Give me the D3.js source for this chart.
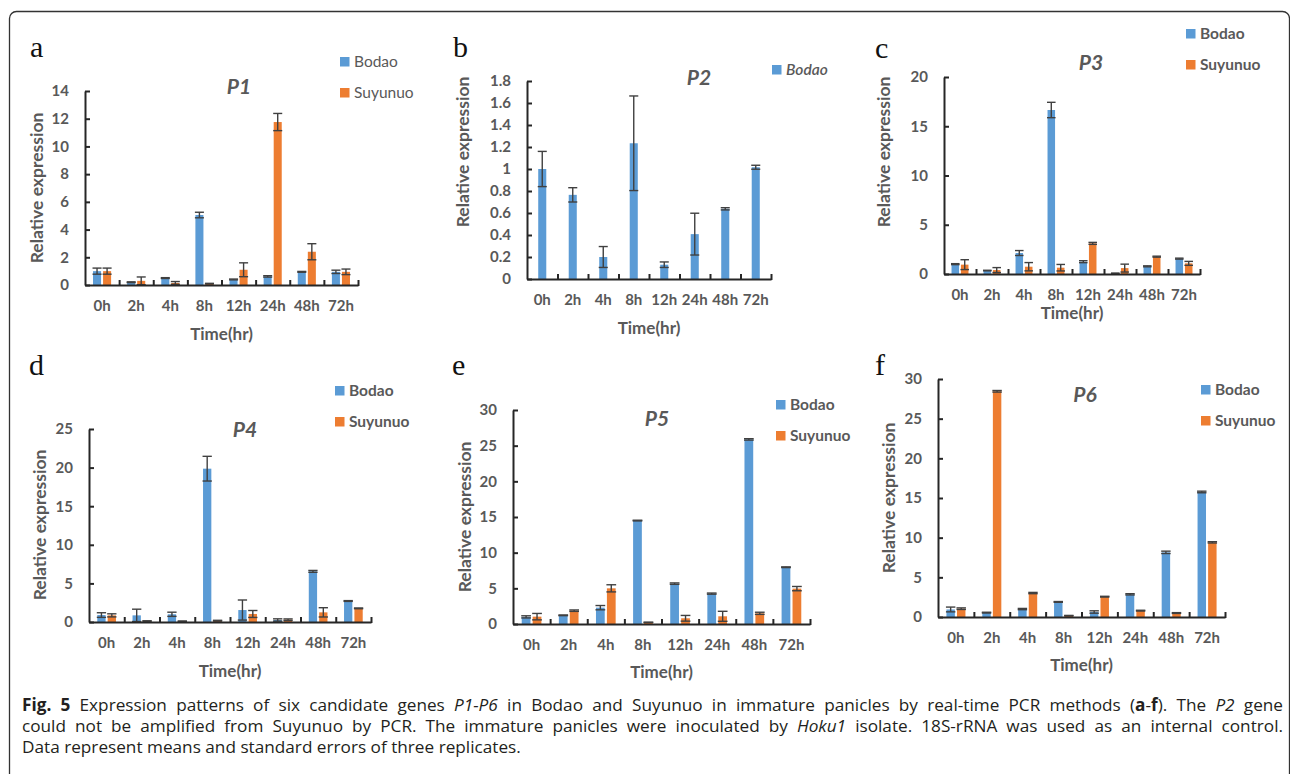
<!DOCTYPE html>
<html>
<head>
<meta charset="utf-8">
<script src="https://cdn.jsdelivr.net/npm/d3@7"></script>
<style>
  body { margin: 0; background: #fff; }
  svg { display: block; }
</style>
</head>
<body>
<svg id="fig" width="1290" height="774"></svg>
<script>
// ---- data ----
const times = ["0h", "2h", "4h", "8h", "12h", "24h", "48h", "72h"];

const p1Bodao = [1.0, 0.2, 0.5, 5.05, 0.4, 0.62, 0.95, 0.95];
const p1BodaoErr = [0.22, 0.03, 0.03, 0.2, 0.03, 0.05, 0.03, 0.12];
const p1Suyunuo = [1.0, 0.3, 0.15, 0.1, 1.1, 11.76, 2.4, 0.95];
const p1SuyunuoErr = [0.22, 0.28, 0.1, 0.02, 0.5, 0.62, 0.58, 0.2];
const p1Ticks = [0, 2, 4, 6, 8, 10, 12, 14];

const p2Bodao = [1.0, 0.765, 0.2, 1.234, 0.13, 0.408, 0.638, 1.016];
const p2BodaoErr = [0.16, 0.065, 0.095, 0.43, 0.025, 0.19, 0.01, 0.018];
const p2Ticks = [0, 0.2, 0.4, 0.6, 0.8, 1, 1.2, 1.4, 1.6, 1.8];

const p3Bodao = [1.0, 0.35, 2.13, 16.65, 1.25, 0.07, 0.78, 1.56];
const p3BodaoErr = [0.05, 0.03, 0.25, 0.78, 0.1, 0.02, 0.05, 0.05];
const p3Suyunuo = [0.95, 0.4, 0.74, 0.64, 3.11, 0.6, 1.76, 1.08];
const p3SuyunuoErr = [0.5, 0.25, 0.42, 0.33, 0.1, 0.4, 0.05, 0.2];
const p3Ticks = [0, 5, 10, 15, 20];

const p4Bodao = [0.9, 0.86, 1.0, 19.86, 1.55, 0.26, 6.56, 2.72];
const p4BodaoErr = [0.3, 0.8, 0.27, 1.6, 1.3, 0.15, 0.12, 0.05];
const p4Suyunuo = [0.86, 0.13, 0.1, 0.17, 1.04, 0.3, 1.25, 1.77];
const p4SuyunuoErr = [0.2, 0.03, 0.03, 0.05, 0.45, 0.1, 0.6, 0.05];
const p4Ticks = [0, 5, 10, 15, 20, 25];

const p5Bodao = [1.0, 1.22, 2.29, 14.5, 5.66, 4.26, 25.88, 7.96];
const p5BodaoErr = [0.15, 0.05, 0.3, 0.05, 0.1, 0.08, 0.1, 0.05];
const p5Suyunuo = [1.03, 1.87, 5.0, 0.23, 0.8, 1.08, 1.5, 4.96];
const p5SuyunuoErr = [0.45, 0.1, 0.5, 0.03, 0.4, 0.7, 0.15, 0.3];
const p5Ticks = [0, 5, 10, 15, 20, 25, 30];

const p6Bodao = [0.95, 0.55, 1.0, 1.9, 0.63, 2.86, 8.15, 15.76];
const p6BodaoErr = [0.3, 0.05, 0.08, 0.05, 0.15, 0.08, 0.15, 0.1];
const p6Suyunuo = [1.05, 28.45, 3.02, 0.17, 2.56, 0.8, 0.5, 9.41];
const p6SuyunuoErr = [0.1, 0.1, 0.08, 0.03, 0.05, 0.05, 0.05, 0.08];
const p6Ticks = [0, 5, 10, 15, 20, 25, 30];

const captionLines = [
  [["Fig. 5", "b"], [" Expression patterns of six candidate genes ", ""], ["P1-P6", "i"],
   [" in Bodao and Suyunuo in immature panicles by real-time PCR methods (", ""], ["a", "b"], ["-", ""], ["f", "b"],
   ["). The ", ""], ["P2", "i"], [" gene", ""]],
  [["could not be amplified from Suyunuo by PCR. The immature panicles were inoculated by ", ""], ["Hoku1", "i"],
   [" isolate. 18S-rRNA was used as an internal control.", ""]],
  [["Data represent means and standard errors of three replicates.", ""]]
];

// ---- styles ----
const blue = "#5b9bd5", orange = "#ed7d31";
const gray = "#595959";
const chartFont = "Lato, 'Open Sans', sans-serif";

const svg = d3.select("#fig");

// frame
svg.append("rect")
  .attr("x", 9.5).attr("y", 11.5).attr("width", 1280).attr("height", 800)
  .attr("rx", 7).attr("fill", "none").attr("stroke", "#333").attr("stroke-width", 1.3);

const panels = [
  { letter: "a", lx: 30, ly: 57, x0: 85, x1: 358, y0: 285, yTop: 91, ticks: p1Ticks,
    title: "P1", tx: 239, ty: 87, ylx: 37, yly: 188, xly: 334, legX: 340, legY: 57, legStyle: "normal",
    series: [{ name: "Bodao", values: p1Bodao, errors: p1BodaoErr, color: blue },
             { name: "Suyunuo", values: p1Suyunuo, errors: p1SuyunuoErr, color: orange }] },
  { letter: "b", lx: 453, ly: 57, x0: 527, x1: 771, y0: 279, yTop: 81, ticks: p2Ticks,
    title: "P2", tx: 699, ty: 78, ylx: 463, yly: 152, xly: 328, legX: 772, legY: 65, legStyle: "italic",
    series: [{ name: "Bodao", values: p2Bodao, errors: p2BodaoErr, color: blue }] },
  { letter: "c", lx: 875, ly: 58, x0: 944, x1: 1200, y0: 274, yTop: 77, ticks: p3Ticks,
    title: "P3", tx: 1091, ty: 63, ylx: 884, yly: 152, xly: 313, legX: 1186, legY: 29, legStyle: "bold",
    series: [{ name: "Bodao", values: p3Bodao, errors: p3BodaoErr, color: blue },
             { name: "Suyunuo", values: p3Suyunuo, errors: p3SuyunuoErr, color: orange }] },
  { letter: "d", lx: 29, ly: 375, x0: 89, x1: 371, y0: 622, yTop: 429, ticks: p4Ticks,
    title: "P4", tx: 245, ty: 430, ylx: 40, yly: 525, xly: 671, legX: 335, legY: 386, legStyle: "bold",
    series: [{ name: "Bodao", values: p4Bodao, errors: p4BodaoErr, color: blue },
             { name: "Suyunuo", values: p4Suyunuo, errors: p4SuyunuoErr, color: orange }] },
  { letter: "e", lx: 452, ly: 375, x0: 513, x1: 810, y0: 624, yTop: 410, ticks: p5Ticks,
    title: "P5", tx: 657, ty: 419, ylx: 465, yly: 517, xly: 672, legX: 776, legY: 400, legStyle: "bold",
    series: [{ name: "Bodao", values: p5Bodao, errors: p5BodaoErr, color: blue },
             { name: "Suyunuo", values: p5Suyunuo, errors: p5SuyunuoErr, color: orange }] },
  { letter: "f", lx: 875, ly: 375, x0: 938, x1: 1225, y0: 617, yTop: 379, ticks: p6Ticks,
    title: "P6", tx: 1085, ty: 395, ylx: 889, yly: 498, xly: 665, legX: 1201, legY: 385, legStyle: "bold",
    series: [{ name: "Bodao", values: p6Bodao, errors: p6BodaoErr, color: blue },
             { name: "Suyunuo", values: p6Suyunuo, errors: p6SuyunuoErr, color: orange }] }
];

function drawPanel(cfg) {
  const g = svg.append("g").attr("font-family", chartFont);
  const x = d3.scaleBand().domain(times).range([cfg.x0, cfg.x1]);
  const y = d3.scaleLinear().domain([0, d3.max(cfg.ticks)]).range([cfg.y0, cfg.yTop]);
  const bw = x.bandwidth();
  const names = cfg.series.map(s => s.name);
  const inner = d3.scaleBand().domain(names)
    .range(names.length > 1 ? [0.235 * bw, 0.765 * bw] : [0.335 * bw, 0.665 * bw])
    .paddingInner(0.2);
  const w = inner.bandwidth();

  // bars
  cfg.series.forEach(s => {
    const rows = times.map((t, i) => ({ t, v: s.values[i], e: s.errors[i] }));
    g.append("g").selectAll("rect").data(rows).join("rect")
      .attr("x", d => x(d.t) + inner(s.name))
      .attr("y", d => y(d.v))
      .attr("width", w)
      .attr("height", d => y(0) - y(d.v))
      .attr("fill", s.color);
  });

  // error bars
  cfg.series.forEach(s => {
    const rows = times.map((t, i) => ({ t, v: s.values[i], e: s.errors[i] }));
    const eg = g.append("g").attr("stroke", "#404040").attr("stroke-width", 1.4).attr("fill", "none");
    const cx = d => x(d.t) + inner(s.name) + w / 2;
    eg.selectAll(".stem").data(rows).join("line").attr("class", "stem")
      .attr("x1", cx).attr("x2", cx)
      .attr("y1", d => y(d.v + d.e)).attr("y2", d => y(Math.max(0, d.v - d.e)));
    eg.selectAll(".capT").data(rows).join("line").attr("class", "capT")
      .attr("x1", d => cx(d) - w / 2 - 0.5).attr("x2", d => cx(d) + w / 2 + 0.5)
      .attr("y1", d => y(d.v + d.e)).attr("y2", d => y(d.v + d.e));
    eg.selectAll(".capB").data(rows).join("line").attr("class", "capB")
      .attr("x1", d => cx(d) - w / 2 - 0.5).attr("x2", d => cx(d) + w / 2 + 0.5)
      .attr("y1", d => y(Math.max(0, d.v - d.e))).attr("y2", d => y(Math.max(0, d.v - d.e)));
  });

  // y axis
  const ya = g.append("g").attr("transform", `translate(${cfg.x0},0)`)
    .call(d3.axisLeft(y).tickValues(cfg.ticks).tickFormat(d => String(d))
      .tickSize(-5).tickSizeOuter(0).tickPadding(16));
  ya.select(".domain").attr("stroke", "#262626").attr("stroke-width", 2);
  ya.selectAll(".tick line").attr("stroke", "#262626").attr("stroke-width", 2);
  ya.selectAll(".tick text").attr("fill", gray).attr("font-size", 15).attr("font-weight", "bold")
    .attr("font-family", chartFont);

  // x axis: labels centred in bands
  const xa = g.append("g").attr("transform", `translate(0,${cfg.y0})`)
    .call(d3.axisBottom(x).tickSize(0).tickSizeOuter(0).tickPadding(15));
  xa.select(".domain").attr("stroke", "#262626").attr("stroke-width", 2);
  xa.selectAll(".tick text").attr("fill", gray).attr("font-size", 15).attr("font-weight", "bold")
    .attr("font-family", chartFont);

  // x axis: tick marks on category boundaries
  const bx = d3.scaleLinear().domain([0, times.length]).range([cfg.x0, cfg.x1]);
  const xt = g.append("g").attr("transform", `translate(0,${cfg.y0 + 1})`)
    .call(d3.axisBottom(bx).tickValues(d3.range(1, times.length + 1)).tickFormat("").tickSize(-6).tickSizeOuter(0));
  xt.select(".domain").remove();
  xt.selectAll(".tick line").attr("stroke", "#262626").attr("stroke-width", 2);

  // titles
  g.append("text").attr("x", cfg.tx).attr("y", cfg.ty).attr("dy", "0.35em")
    .attr("text-anchor", "middle").attr("font-size", 21).attr("font-weight", "bold")
    .attr("font-style", "italic").attr("fill", gray).text(cfg.title);

  g.append("text").attr("transform", `translate(${cfg.ylx},${cfg.yly}) rotate(-90)`)
    .attr("dy", "0.35em").attr("text-anchor", "middle").attr("font-size", 17.5)
    .attr("font-weight", "bold").attr("fill", gray).text("Relative expression");

  g.append("text").attr("x", (cfg.x0 + cfg.x1) / 2).attr("y", cfg.xly).attr("dy", "0.35em")
    .attr("text-anchor", "middle").attr("font-size", 17).attr("font-weight", "bold")
    .attr("fill", gray).text("Time(hr)");

  // legend
  const leg = g.append("g").selectAll("g").data(cfg.series).join("g")
    .attr("transform", (d, i) => `translate(${cfg.legX},${cfg.legY + i * 31})`);
  leg.append("rect").attr("width", 9.5).attr("height", 9.5).attr("fill", d => d.color);
  leg.append("text").attr("x", 14).attr("y", 5).attr("dy", "0.35em")
    .attr("font-size", 15.5).attr("fill", gray)
    .attr("font-weight", cfg.legStyle === "bold" ? "bold" : (cfg.legStyle === "italic" ? 600 : "normal"))
    .attr("font-style", cfg.legStyle === "italic" ? "italic" : "normal")
    .text(d => d.name);

  // panel letter
  svg.append("text").attr("x", cfg.lx).attr("y", cfg.ly)
    .attr("font-family", "'Liberation Serif', 'Times New Roman', serif").attr("font-size", 30)
    .attr("fill", "#111").text(cfg.letter);
}

panels.forEach(drawPanel);

// caption (first two lines justified to the frame width)
const capX = 22, capRight = 1283;
const cap = svg.append("g").attr("font-family", "'Open Sans', 'Noto Sans', sans-serif")
  .attr("font-size", 17.2).attr("fill", "#231f20");
captionLines.forEach((parts, li) => {
  const t = cap.append("text").attr("x", capX).attr("y", 711 + li * 21).attr("xml:space", "preserve");
  parts.forEach(([txt, st]) => {
    t.append("tspan").text(txt)
      .attr("font-weight", st === "b" ? "bold" : null)
      .attr("font-style", st === "i" ? "italic" : null);
  });
  if (li < 2) {
    const natural = t.node().getComputedTextLength();
    const spaces = parts.map(p => p[0]).join("").split(" ").length - 1;
    t.attr("word-spacing", Math.max(0, (capRight - capX - natural) / spaces));
  }
});
</script>
</body>
</html>
